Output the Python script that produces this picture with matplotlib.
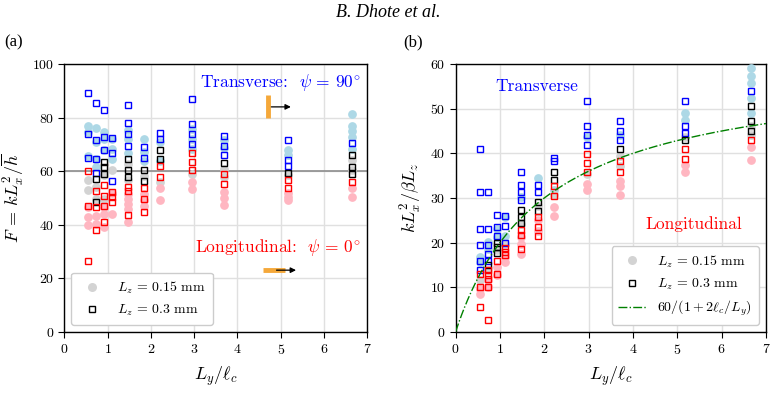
import numpy as np
import matplotlib
matplotlib.use("Agg")
import matplotlib.pyplot as plt
from matplotlib.lines import Line2D

plt.rcParams['font.family'] = 'serif'
plt.rcParams['font.serif'] = ['cmr10', 'DejaVu Serif']
plt.rcParams['mathtext.fontset'] = 'cm'
plt.rcParams['axes.unicode_minus'] = False
plt.rcParams['axes.formatter.use_mathtext'] = True

# L_y / l_c for the 11 sample widths
ly_lc = [0.555, 0.74, 0.925, 1.11, 1.48, 1.85, 2.22, 2.96, 3.70, 5.18, 6.66]

# panel (a): F = k Lx^2 / h, one list per column
Fa_trans_03 = [[89.0, 73.8, 65.0], [85.3, 71.6, 64.5, 59.5], [83.0, 72.8, 68.0], [72.4, 66.8, 56.4],
               [84.6, 78.0, 73.8, 69.5], [69.0, 65.0], [74.3, 72.1], [86.8, 77.5, 74.0, 70.3],
               [73.0, 69.4, 66.2], [71.7, 64.1, 61.9], [70.4]]
Fa_mid_03 = [[], [57.0, 48.5], [63.5, 61.5, 59.0], [],
             [64.4, 60.6, 57.8], [60.6, 56.3], [68.1, 64.6], [],
             [63.1], [59.5], [66.0, 61.4, 58.8]]
Fa_long_03 = [[60.0, 47.0, 26.5], [52.5, 46.5, 38.0], [55.0, 50.8, 47.0, 41.0], [52.3, 50.4, 48.6],
              [54.3, 52.8, 43.8], [53.8, 49.6, 44.9], [62.1, 57.8], [66.8, 63.4, 60.3],
              [59.1, 55.4], [56.6, 53.9], [55.9]]
Fa_trans_015 = [[76.8, 74.5, 65.5], [76.0, 71.0, 64.5, 61.5], [74.7, 72.2, 67.8], [72.2, 68.4, 64.7],
                [75.3, 72.0, 66.8], [72.1, 67.1, 64.0], [70.9, 64.0], [75.9, 72.0, 68.4],
                [71.6, 68.8], [68.1, 66.2], [81.5, 76.9, 74.9, 72.8, 68.4]]
Fa_mid_015 = [[56.8, 53.0], [54.2, 49.5], [58.5, 49.8], [60.4],
              [62.8, 56.6], [58.4], [55.9], [59.0],
              [61.0, 57.9], [58.5], [64.1, 60.4]]
Fa_long_015 = [[46.8, 43.0, 40.0], [43.2, 40.2], [46.7, 44.0, 39.3], [51.7, 44.0],
               [51.5, 49.6, 47.8, 45.9, 40.9], [51.5, 49.2, 47.1], [53.6, 49.4], [55.9, 53.4],
               [52.3, 50.2, 47.3], [51.9, 50.4, 49.4], [53.9, 50.4]]

# panel (b): k Lx^2 / (beta Lz)
Kb_trans_03 = [[40.9, 31.3, 23.0, 19.4, 16.0, 14.0], [31.3, 23.1, 19.4, 17.4, 15.8], [26.1, 23.5, 21.6],
               [25.9, 23.7, 20.0], [35.9, 33.0, 31.3, 29.6], [33.0, 31.3], [38.9, 38.2],
               [51.7, 46.1, 44.0, 41.9], [47.2, 45.1, 43.0], [51.7, 46.1, 44.5], [54.0]]
Kb_mid_03 = [[], [15.1], [19.9, 19.0, 17.7], [],
             [27.4, 25.7, 24.4], [29.1, 27.0], [35.9, 34.1], [],
             [40.9], [42.9], [50.6, 47.2, 45.0]]
Kb_long_03 = [[12.9, 10.2, 5.7], [14.0, 12.8, 11.9, 10.2, 2.6], [16.0, 13.0], [18.8, 17.9, 17.2],
              [22.9, 21.8, 18.6], [25.7, 23.6, 21.5], [32.6, 30.4], [39.9, 37.9, 35.9],
              [38.4, 35.9], [40.9, 38.8], [42.9]]
Kb_trans_015 = [[16.8, 15.7], [20.1, 18.6], [23.1, 21.3], [25.7, 21.6],
                [30.2], [34.5], [31.7], [43.6],
                [44.2], [49.1, 47.5], [59.1, 57.3, 55.7, 52.4, 49.1]]
Kb_mid_015 = [[11.6], [13.8], [18.3], [19.8],
              [24.2], [28.3], [30.6], [35.4],
              [39.5, 37.1], [43.6], [46.2, 44.0]]
Kb_long_015 = [[9.7, 8.6], [11.6, 10.1], [14.5, 12.7], [16.8, 15.7],
               [21.3, 19.8, 17.5], [25.0, 22.7], [28.1, 25.9], [33.2, 31.8],
               [33.9, 32.6, 30.6], [37.3, 35.9], [41.5, 38.6]]


def flat(cols):
    xs, ys = [], []
    for x, vals in zip(ly_lc, cols):
        xs += [x] * len(vals)
        ys += vals
    return xs, ys


def draw_points(ax, trans15, mid15, long15, trans03, mid03, long03):
    for data, c in [(trans15, '#add8e6'), (mid15, '#d3d3d3'), (long15, '#ffb6c1')]:
        xs, ys = flat(data)
        ax.plot(xs, ys, 'o', color=c, ms=6.3, mew=0, zorder=3)
    for data, c in [(trans03, 'blue'), (mid03, 'black'), (long03, 'red')]:
        xs, ys = flat(data)
        ax.plot(xs, ys, 's', mfc='none', mec=c, ms=4.0, mew=1.0, zorder=4)


def style(ax, ymax, ystep):
    ax.set_xlim(0, 7)
    ax.set_ylim(0, ymax)
    ax.set_xticks(range(0, 8))
    ax.set_yticks(np.arange(0, ymax + 1, ystep))
    ax.grid(True, color='0.88', lw=1.0, zorder=0)
    ax.set_axisbelow(True)
    ax.tick_params(labelsize=10, length=4, width=0.8)
    for s in ax.spines.values():
        s.set_linewidth(1.0)
    ax.set_xlabel(r'$L_y/\ell_c$', fontsize=13, labelpad=6)


legend_handles = [
    Line2D([], [], ls='none', marker='o', color='#d3d3d3', ms=6.5, mew=0, label=r'$L_z\,=\,0.15$ mm'),
    Line2D([], [], ls='none', marker='s', mfc='none', mec='black', ms=4.5, mew=1.0, label=r'$L_z\,=\,0.3$ mm'),
]

fig = plt.figure(figsize=(7.76, 4.05), dpi=100)
ax1 = fig.add_axes([0.0831, 0.180, 0.390, 0.662])
ax2 = fig.add_axes([0.587, 0.180, 0.400, 0.662])

# ---- (a)
draw_points(ax1, Fa_trans_015, Fa_mid_015, Fa_long_015, Fa_trans_03, Fa_mid_03, Fa_long_03)
ax1.axhline(60, color='0.55', lw=1.2, zorder=2)
style(ax1, 100, 20)
ax1.set_ylabel(r'$F\,=\,kL_x^2/\overline{h}$', fontsize=13, labelpad=4)
ax1.text(6.85, 93.0, r'Transverse:  $\psi\,=\,90^{\circ}$', color='blue', fontsize=12.5,
         ha='right', va='center', zorder=5)
ax1.text(6.85, 31.6, r'Longitudinal:  $\psi\,=\,0^{\circ}$', color='red', fontsize=12.5,
         ha='right', va='center', zorder=5)
ax1.plot([4.70, 4.70], [80.0, 88.3], color='#f5a83a', lw=3.5, solid_capstyle='butt', zorder=5)
ax1.annotate('', xy=(5.30, 84.0), xytext=(4.72, 84.0),
             arrowprops=dict(arrowstyle='-|>', color='black', lw=0.9, mutation_scale=8), zorder=6)
ax1.plot([4.59, 5.09], [23.1, 23.1], color='#f5a83a', lw=3.5, solid_capstyle='butt', zorder=5)
ax1.annotate('', xy=(5.42, 23.1), xytext=(4.84, 23.1),
             arrowprops=dict(arrowstyle='-|>', color='black', lw=0.9, mutation_scale=8), zorder=6)
ax1.legend(handles=legend_handles, loc='lower left', fontsize=10, framealpha=1.0,
           edgecolor='0.8', handletextpad=0.8, borderpad=0.5)

# ---- (b)
draw_points(ax2, Kb_trans_015, Kb_mid_015, Kb_long_015, Kb_trans_03, Kb_mid_03, Kb_long_03)
xfit = np.linspace(0.001, 7, 300)
fit_line, = ax2.plot(xfit, 60 / (1 + 2 / xfit), color='green', ls='-.', lw=1.0, zorder=5,
                     label=r'$60/(1+2\ell_c/L_y)$')
style(ax2, 60, 10)
ax2.set_ylabel(r'$kL_x^2/\beta L_z$', fontsize=13, labelpad=4)
ax2.text(1.84, 55.0, 'Transverse', color='blue', fontsize=12.5, ha='center', va='center', zorder=5)
ax2.text(5.38, 24.2, 'Longitudinal', color='red', fontsize=12.5, ha='center', va='center', zorder=5)
ax2.legend(handles=legend_handles + [fit_line], loc='lower right', fontsize=10, framealpha=1.0,
           edgecolor='0.8', handletextpad=0.8, borderpad=0.5)

# header and panel tags
fig.text(0.5, 0.970, 'B. Dhote et al.', family='Liberation Serif', style='italic',
         fontsize=13, ha='center', va='center')
fig.text(0.006, 0.895, '(a)', family='Liberation Serif', fontsize=12, ha='left', va='center')
fig.text(0.520, 0.895, '(b)', family='Liberation Serif', fontsize=12, ha='left', va='center')

fig.savefig('out.png', dpi=100)
